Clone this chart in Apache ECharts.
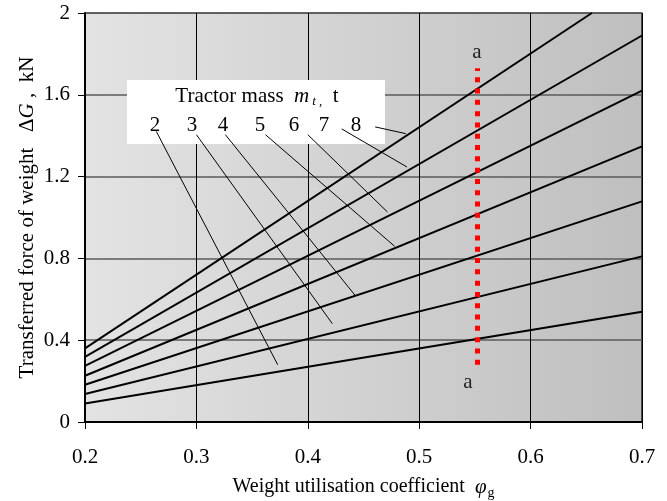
<!DOCTYPE html>
<html>
<head>
<meta charset="utf-8">
<script src="https://cdn.jsdelivr.net/npm/echarts@6/dist/echarts.min.js"></script>
<style>html,body{margin:0;padding:0;background:#fff;}#c{width:667px;height:501px;}</style>
</head>
<body>
<div id="c"></div>
<script>
// ---- data ----
const masses = [2, 3, 4, 5, 6, 7, 8];               // tractor mass, t
const phiStart = [0.2, 0.2, 0.2, 0.2, 0.2, 0.2, 0.2];
const dGStart  = [0.091, 0.137, 0.182, 0.226, 0.274, 0.318, 0.36];
const phiEnd   = [0.7, 0.7, 0.7, 0.7, 0.7, 0.7, 0.655];
const dGEnd    = [0.539, 0.81, 1.079, 1.348, 1.62, 1.89, 2.0];
const xTicks = ['0.2', '0.3', '0.4', '0.5', '0.6', '0.7'];
const yTicks = ['0', '0.4', '0.8', '1.2', '1.6', '2'];
const sectionPhi = 0.552;          // line a-a
const sectionRange = [0.28, 1.73];

// ---- annotation layout (leader lines, data coords) ----
const leaderFrom = [[0.264,1.421],[0.300,1.405],[0.326,1.405],[0.362,1.405],[0.400,1.405],[0.4305,1.433],[0.4605,1.443]];
const leaderTo   = [[0.373,0.280],[0.422,0.481],[0.4425,0.619],[0.478,0.859],[0.4715,1.027],[0.489,1.247],[0.488,1.410]];
const labelPx    = [155, 192, 223, 260, 294, 324, 356];

const FF = '"Liberation Serif","Times New Roman",serif';
const FS = 21;
const chart = echarts.init(document.getElementById('c'), null, {renderer: 'canvas'});

const series = masses.map((m, i) => ({
  name: String(m),
  type: 'line',
  data: [[phiStart[i], dGStart[i]], [phiEnd[i], dGEnd[i]]],
  showSymbol: false,
  symbol: 'none',
  silent: true,
  z: 3,
  lineStyle: {color: '#000', width: 2},
  markLine: {
    silent: true, symbol: 'none', animation: false,
    label: {show: false},
    lineStyle: {color: '#000', width: 1, type: 'solid'},
    data: [[{coord: leaderFrom[i]}, {coord: leaderTo[i]}]]
  }
}));

series.push({
  name: 'a-a',
  type: 'line',
  data: [],
  silent: true,
  z: 4,
  markLine: {
    silent: true, symbol: 'none', animation: false,
    label: {show: false},
    lineStyle: {color: '#ff0000', width: 5, type: [5, 6.3], cap: 'butt'},
    data: [[{coord: [sectionPhi, sectionRange[0]]}, {coord: [sectionPhi, sectionRange[1]]}]]
  }
});

chart.setOption({
  animation: false,
  backgroundColor: '#fff',
  textStyle: {fontFamily: FF},
  grid: {
    left: 85, top: 13, right: 25, bottom: 79,
    outerBoundsMode: 'none',
    containLabel: false,
    show: true,
    borderColor: '#000', borderWidth: 1.2,
    backgroundColor: {
      type: 'linear', x: 0, y: 0, x2: 1, y2: 0,
      colorStops: [{offset: 0, color: '#e3e3e3'}, {offset: 1, color: '#bfbfbf'}]
    }
  },
  xAxis: {
    type: 'value', min: 0.2, max: 0.7, interval: 0.1,
    name: 'Weight utilisation coefficient  {i|φ}{sub|g}',
    nameLocation: 'middle', nameGap: 52,
    nameTextStyle: {
      fontFamily: FF, fontSize: 20, color: '#000', padding: [0, 0, 0, 0],
      rich: {
        i: {fontFamily: FF, fontSize: 21, fontStyle: 'italic', color: '#000'},
        sub: {fontFamily: FF, fontSize: 14, color: '#000', padding: [12, 0, 0, 1]}
      }
    },
    axisLine: {show: true, onZero: false, lineStyle: {color: '#000', width: 2}},
    axisTick: {show: true, inside: false, length: 7, lineStyle: {color: '#000', width: 1}},
    axisLabel: {
      margin: 25, fontFamily: FF, fontSize: FS, color: '#000',
      formatter: (v) => xTicks[Math.round((v - 0.2) * 10)] || ''
    },
    splitLine: {show: true, lineStyle: {color: '#000', width: 1}}
  },
  yAxis: {
    type: 'value', min: 0, max: 2, interval: 0.4,
    name: 'Transferred force of weight   Δ{i|G} ,  kN',
    nameLocation: 'middle', nameGap: 47,
    nameMoveOverlap: false,
    nameTextStyle: {
      fontFamily: FF, fontSize: FS, color: '#000',
      rich: {i: {fontFamily: FF, fontSize: FS, fontStyle: 'italic', color: '#000'}}
    },
    axisLine: {show: true, onZero: false, lineStyle: {color: '#000', width: 2}},
    axisTick: {show: true, inside: false, length: 7, lineStyle: {color: '#000', width: 1}},
    axisLabel: {
      margin: 15, fontFamily: FF, fontSize: FS, color: '#000',
      formatter: (v) => yTicks[Math.round(v / 0.4)] || ''
    },
    splitLine: {show: true, lineStyle: {color: '#5a5a5a', width: 1.5}}
  },
  graphic: [
    {type: 'rect', z: 1, shape: {x: 127, y: 80, width: 258, height: 64}, style: {fill: '#fff'}, silent: true},
    {
      type: 'text', z: 10, x: 257, y: 96,
      style: {
        text: 'Tractor mass  {i|m}{sub|t ,}  t',
        fontFamily: FF, fontSize: FS, fill: '#000', align: 'center', verticalAlign: 'middle',
        rich: {
          i: {fontFamily: FF, fontSize: FS, fontStyle: 'italic', fill: '#000'},
          sub: {fontFamily: FF, fontSize: 13, fontStyle: 'italic', fill: '#000', padding: [12, 0, 0, 3]}
        }
      }
    }
  ].concat(masses.map((m, i) => ({
    type: 'text', z: 10, x: labelPx[i], y: 125,
    style: {text: String(m), fontFamily: FF, fontSize: FS, fill: '#000', align: 'center', verticalAlign: 'middle'}
  }))).concat([
    {type: 'text', z: 10, x: 477, y: 52, style: {text: 'a', fontFamily: FF, fontSize: FS, fill: '#222', align: 'center', verticalAlign: 'middle'}},
    {type: 'text', z: 10, x: 468, y: 382, style: {text: 'a', fontFamily: FF, fontSize: FS, fill: '#222', align: 'center', verticalAlign: 'middle'}}
  ]),
  series: series
});
</script>
</body>
</html>
